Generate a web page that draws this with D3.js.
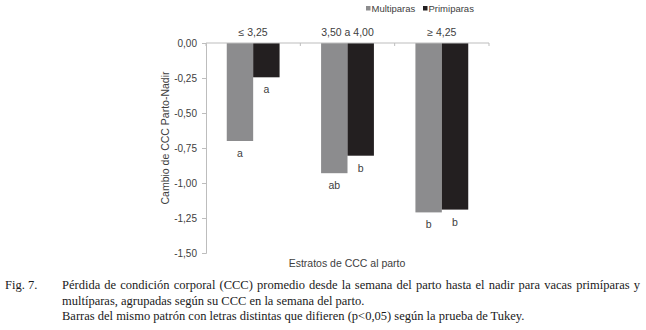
<!DOCTYPE html>
<html>
<head>
<meta charset="utf-8">
<script src="https://cdn.jsdelivr.net/npm/d3@7"></script>
<style>
  body { margin: 0; background: #fff; }
  svg { display: block; }
  .chart-text { font-family: "Liberation Sans", Arial, sans-serif; }
  .caption { font-family: "Liberation Serif", "Times New Roman", "DejaVu Serif", serif; }
</style>
</head>
<body>
<div id="chart"></div>
<script>
const categories = ["≤ 3,25", "3,50 a 4,00", "≥ 4,25"];
const seriesNames = ["Multiparas", "Primiparas"];
const multiparas = [-0.70, -0.93, -1.21];
const primiparas = [-0.245, -0.805, -1.19];
const multiLetters = ["a", "ab", "b"];
const primiLetters = ["a", "b", "b"];
const yTicks = [0, -0.25, -0.5, -0.75, -1.0, -1.25, -1.5];
const captionLines = [
  "Pérdida de condición corporal (CCC) promedio desde la semana del parto hasta el nadir para vacas primíparas y",
  "multíparas, agrupadas según su CCC en la semana del parto.",
  "Barras del mismo patrón con letras distintas que difieren (p<0,05) según la prueba de Tukey."
];

const width = 646, height = 330;
const margins = {top: 43, right: 157, bottom: 77, left: 206};
const colors = ["#8c8c8e", "#231f20"];
const textColor = "#404040";
const axisColor = "#bdbdbd";

const svg = d3.select("#chart").append("svg")
  .attr("width", width)
  .attr("height", height);

const plot = svg.append("g").attr("class", "chart-text");

const xScale = d3.scaleBand()
  .domain(categories)
  .range([margins.left, width - margins.right])
  .paddingInner(0.44)
  .paddingOuter(0.22);

const xSub = d3.scaleBand()
  .domain(seriesNames)
  .range([0, xScale.bandwidth()]);

const yScale = d3.scaleLinear()
  .domain([-1.5, 0])
  .range([height - margins.bottom, margins.top]);

// y axis
const yAxis = plot.append("g")
  .attr("transform", "translate(" + margins.left + ",0)")
  .call(d3.axisLeft(yScale).tickValues(yTicks).tickSize(4).tickPadding(5)
    .tickFormat(d => d3.format(".2f")(d).replace(".", ",").replace("−", "-")));
yAxis.attr("font-family", null);
yAxis.select(".domain").attr("stroke", axisColor);
yAxis.selectAll(".tick line").attr("stroke", axisColor);
yAxis.selectAll("text").attr("fill", textColor).attr("font-size", "10px");

// bars
const data = categories.map((c, i) => ({cat: c, values: [multiparas[i], primiparas[i]], letters: [multiLetters[i], primiLetters[i]]}));

const groups = plot.append("g").selectAll("g")
  .data(data)
  .join("g")
  .attr("transform", d => "translate(" + xScale(d.cat) + ",0)");

groups.selectAll("rect")
  .data(d => d.values.map((v, j) => ({name: seriesNames[j], v: v, j: j})))
  .join("rect")
  .attr("x", d => xSub(d.name))
  .attr("y", yScale(0))
  .attr("width", xSub.bandwidth())
  .attr("height", d => yScale(d.v) - yScale(0))
  .attr("fill", d => colors[d.j]);

groups.selectAll("text.letter")
  .data(d => d.values.map((v, j) => ({name: seriesNames[j], v: v, l: d.letters[j]})))
  .join("text")
  .attr("class", "letter")
  .attr("x", d => xSub(d.name) + xSub.bandwidth() / 2)
  .attr("y", d => yScale(d.v) + 16)
  .attr("text-anchor", "middle")
  .attr("font-size", "10.5px")
  .attr("fill", textColor)
  .text(d => d.l);

// top (zero) axis line with ticks between categories
const zeroY = yScale(0);
plot.append("line")
  .attr("x1", margins.left).attr("x2", width - margins.right)
  .attr("y1", zeroY).attr("y2", zeroY)
  .attr("stroke", axisColor);
d3.range(categories.length + 1).forEach(i => {
  const x = margins.left + i * (width - margins.left - margins.right) / categories.length;
  plot.append("line")
    .attr("x1", x).attr("x2", x)
    .attr("y1", zeroY).attr("y2", zeroY + 3)
    .attr("stroke", axisColor);
});

// category labels above
plot.append("g").selectAll("text")
  .data(categories)
  .join("text")
  .attr("x", d => xScale(d) + xScale.bandwidth() / 2)
  .attr("y", 36)
  .attr("text-anchor", "middle")
  .attr("font-size", "10.5px")
  .attr("fill", textColor)
  .text(d => d);

// legend
const legendX = [366, 423];
seriesNames.forEach((n, i) => {
  plot.append("rect")
    .attr("x", legendX[i]).attr("y", 6)
    .attr("width", 4.5).attr("height", 4.5)
    .attr("fill", colors[i]);
  plot.append("text")
    .attr("x", legendX[i] + 5.5).attr("y", 12)
    .attr("font-size", "9.5px")
    .attr("fill", textColor)
    .text(n);
});

// axis titles
plot.append("text")
  .attr("transform", "translate(169,138) rotate(-90)")
  .attr("text-anchor", "middle")
  .attr("font-size", "10.5px")
  .attr("fill", textColor)
  .text("Cambio de CCC Parto-Nadir");

plot.append("text")
  .attr("x", 347).attr("y", 267)
  .attr("text-anchor", "middle")
  .attr("font-size", "10.5px")
  .attr("fill", textColor)
  .text("Estratos de CCC al parto");

// caption
const cap = svg.append("g")
  .attr("class", "caption")
  .attr("font-size", "12.5px")
  .attr("fill", "#1a1a1a");

cap.append("text").attr("x", 5).attr("y", 289).text("Fig. 7.");

captionLines.forEach((line, i) => {
  const t = cap.append("text")
    .attr("x", 62)
    .attr("y", 289 + i * 15.5)
    .text(line);
  if (i === 0) {
    const len = t.node().getComputedTextLength();
    const spaces = line.split(" ").length - 1;
    t.attr("word-spacing", ((640 - 62) - len) / spaces);
  }
});
</script>
</body>
</html>
